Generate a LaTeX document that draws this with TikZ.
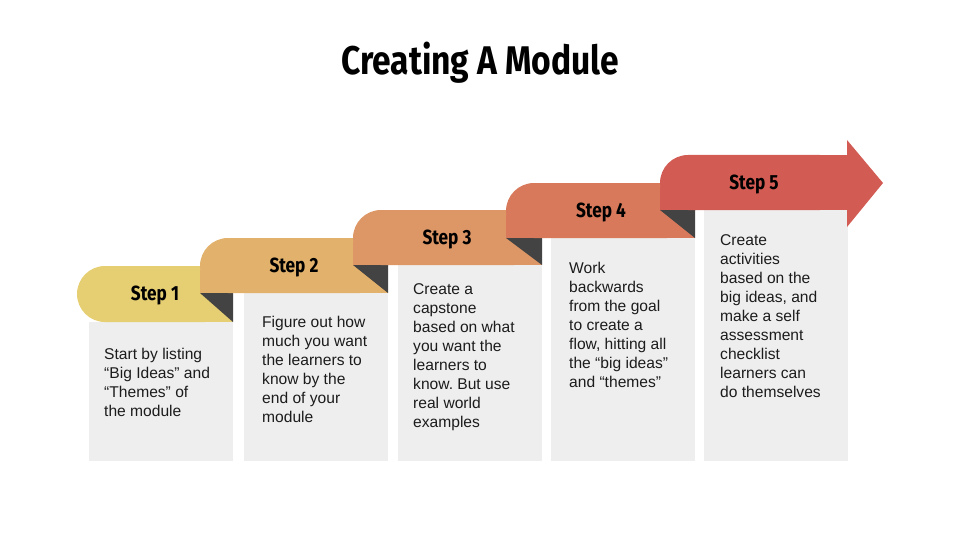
\documentclass[tikz,border=0pt]{standalone}
\usepackage{fontspec}
\setmainfont{Liberation Sans}
\newfontfamily\headfont[FakeStretch=0.84]{Fira Sans}
\usepackage{tikz}
\frenchspacing
\definecolor{stepA}{HTML}{E6CE72}
\definecolor{stepB}{HTML}{E2B16B}
\definecolor{stepC}{HTML}{DD9766}
\definecolor{stepD}{HTML}{D7795A}
\definecolor{stepE}{HTML}{D25C53}
\definecolor{cardgray}{HTML}{EEEEEE}
\definecolor{foldgray}{HTML}{434343}
\definecolor{inkgray}{HTML}{1C1C1C}
\tikzset{cardtxt/.style={anchor=north west,align=left,inner sep=0pt,text=inkgray,
    font=\fontsize{15.6}{19}\selectfont}}
\tikzset{steplbl/.style={inner sep=0pt,font=\headfont\bfseries\fontsize{20.5}{24}\selectfont}}

\begin{document}
\begin{tikzpicture}[x=1pt,y=-1pt]
                \useasboundingbox (0,0) rectangle (960,540);
                
                % Title
                \node[font=\headfont\bfseries\fontsize{40}{46}\selectfont] (title) at (480,63) {Creating A Module};
                
                % Cards
                \fill[cardgray] (89,322) rectangle (233,461);
                \fill[cardgray] (244,293) rectangle (388,461);
                \fill[cardgray] (398,265) rectangle (542,461);
                \fill[cardgray] (551,238) rectangle (695,461);
                \fill[cardgray] (704,210) rectangle (848,461);
                
                % Step 1 banner
                \fill[stepA,rounded corners=28pt] (77,266) rectangle (233,322);
                \fill[stepA] (120,266) rectangle (233,322);
                \fill[foldgray] (200,293) -- (233,293) -- (233,322) -- cycle;
                
                % Step 2 banner
                \fill[stepB,rounded corners=28pt] (200,238) rectangle (388,293);
                \fill[stepB] (240,238) rectangle (388,293);
                \fill[stepB] (200,270) rectangle (388,293);
                \fill[foldgray] (353,265) -- (388,265) -- (388,293) -- cycle;
                
                % Step 3 banner
                \fill[stepC,rounded corners=28pt] (353,210) rectangle (542,265);
                \fill[stepC] (393,210) rectangle (542,265);
                \fill[stepC] (353,242) rectangle (542,265);
                \fill[foldgray] (506,238) -- (542,238) -- (542,265) -- cycle;
                
                % Step 4 banner
                \fill[stepD,rounded corners=28pt] (506,183) rectangle (695,238);
                \fill[stepD] (546,183) rectangle (695,238);
                \fill[stepD] (506,215) rectangle (695,238);
                \fill[foldgray] (660,210) -- (695,210) -- (695,238) -- cycle;
                
                % Step 5 banner with arrow head
                \fill[stepE,rounded corners=28pt] (660,155) rectangle (848,210);
                \fill[stepE] (700,155) rectangle (848,210);
                \fill[stepE] (660,187) rectangle (848,210);
                \fill[stepE] (847,140) -- (883,183) -- (847,227) -- cycle;
                
                % Labels
                \node[steplbl] (step1) at (155,295) {Step 1};
                \node[steplbl] (step2) at (294,267) {Step 2};
                \node[steplbl] (step3) at (447,239) {Step 3};
                \node[steplbl] (step4) at (601,212) {Step 4};
                \node[steplbl] (step5) at (754,184) {Step 5};
                
                % Card texts
                \node[cardtxt] (txt1) at (104,348) {Start by listing\\``Big Ideas'' and\\``Themes'' of\\the module};
                \node[cardtxt] (txt2) at (262,316) {Figure out how\\much you want\\the learners to\\know by the\\end of your\\module};
                \node[cardtxt] (txt3) at (413,283) {Create a\\capstone\\based on what\\you want the\\learners to\\know. But use\\real world\\examples};
                \node[cardtxt] (txt4) at (569,262) {Work\\backwards\\from the goal\\to create a\\flow, hitting all\\the ``big ideas''\\and ``themes''};
                \node[cardtxt] (txt5) at (720,234) {Create\\activities\\based on the\\big ideas, and\\make a self\\assessment\\checklist\\learners can\\do themselves};
            \end{tikzpicture}
\end{document}
